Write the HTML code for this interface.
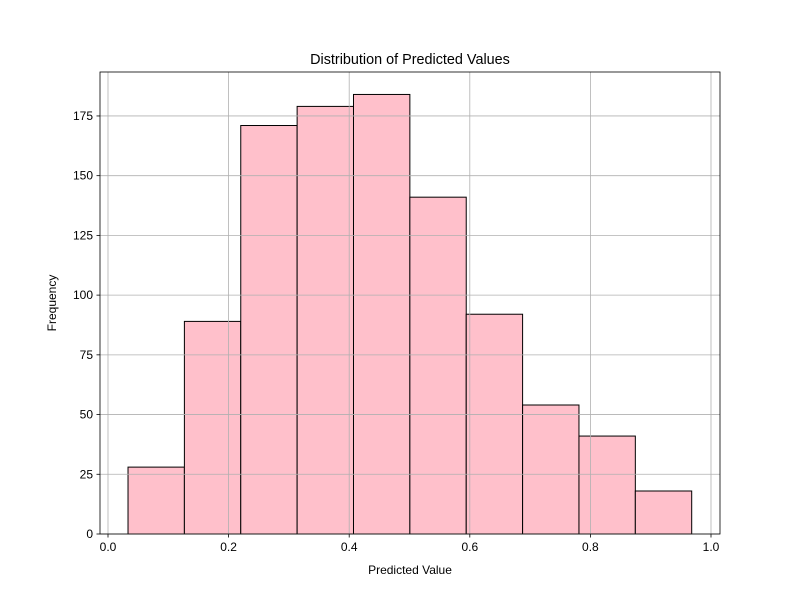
<!DOCTYPE html>
<html><head><meta charset="utf-8"><style>body{margin:0;background:#fff}svg{display:block;font-family:"Liberation Sans","DejaVu Sans",sans-serif}</style></head>
<body>
<svg id="chart" width="800" height="600" viewBox="0 0 800 600"></svg>
<script>
const binStart = 0.0332;
const binEnd = 0.968;
const counts = [28, 89, 171, 179, 184, 141, 92, 54, 41, 18];
const xTicks = [0.0, 0.2, 0.4, 0.6, 0.8, 1.0];
const xTickLabels = ["0.0", "0.2", "0.4", "0.6", "0.8", "1.0"];
const yTicks = [0, 25, 50, 75, 100, 125, 150, 175];
const yMax = 193.4;

const L = 100, R = 720, T = 72, B = 534;
const x = v => 108 + v * 603;
const y = v => B - v / yMax * (B - T);
const svg = document.getElementById('chart');
const NS = 'http://www.w3.org/2000/svg';
function mk(tag, attrs, parent) {
  const e = document.createElementNS(NS, tag);
  for (const k in attrs) e.setAttribute(k, attrs[k]);
  (parent || svg).appendChild(e);
  return e;
}
const bw = (binEnd - binStart) / counts.length;
counts.forEach((c, i) => {
  const x0 = x(binStart + i * bw), x1 = x(binStart + (i + 1) * bw);
  const r = mk('rect', {x: x0, y: y(c), width: x1 - x0, height: B - y(c), fill: 'pink', stroke: '#000', 'stroke-width': 1});
  
  
});
xTicks.forEach((v, i) => {
  const g = mk('line', {x1: x(v), x2: x(v), y1: T, y2: B, stroke: '#b0b0b0', 'stroke-width': 0.8});
  
  
  mk('line', {x1: x(v), x2: x(v), y1: B, y2: B + 3.5, stroke: '#000', 'stroke-width': 0.8});
  const t = mk('text', {x: x(v), y: B + 17, 'text-anchor': 'middle', 'font-size': 12});
  t.textContent = xTickLabels[i];
  
  
});
yTicks.forEach(v => {
  const g = mk('line', {x1: L, x2: R, y1: y(v), y2: y(v), stroke: '#b0b0b0', 'stroke-width': 0.8});
  
  
  mk('line', {x1: L - 3.5, x2: L, y1: y(v), y2: y(v), stroke: '#000', 'stroke-width': 0.8});
  const t = mk('text', {x: L - 7, y: y(v) + 4, 'text-anchor': 'end', 'font-size': 12});
  t.textContent = String(v);
  
  
});
const frame = mk('rect', {x: L, y: T, width: R - L, height: B - T, fill: 'none', stroke: '#000', 'stroke-width': 0.8});


const title = mk('text', {x: (L + R) / 2, y: 64, 'text-anchor': 'middle', 'font-size': 14.4});
title.textContent = 'Distribution of Predicted Values';


const xl = mk('text', {x: (L + R) / 2, y: 574, 'text-anchor': 'middle', 'font-size': 12});
xl.textContent = 'Predicted Value';


const yl = mk('text', {x: 56, y: (T + B) / 2, 'text-anchor': 'middle', 'font-size': 12, transform: `rotate(-90 56 ${(T + B) / 2})`});
yl.textContent = 'Frequency';


</script>
</body></html>
